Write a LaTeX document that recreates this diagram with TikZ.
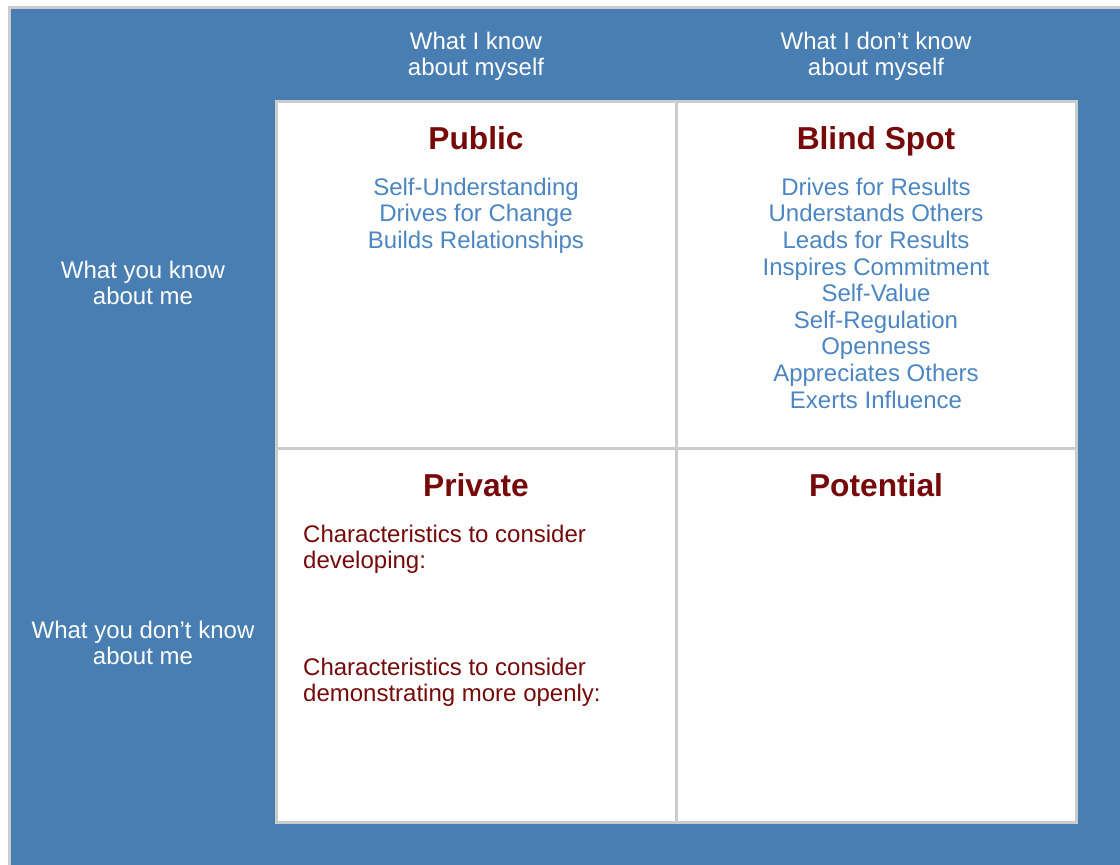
\documentclass[tikz,border=0pt]{standalone}
\usepackage{fontspec}
\setmainfont{Liberation Sans}
\definecolor{bgblue}{RGB}{72,126,178}
\definecolor{gridgray}{RGB}{204,204,204}
\definecolor{itemblue}{RGB}{76,134,194}
\definecolor{maroon}{RGB}{118,10,10}
\newcommand{\bodyfont}{\fontsize{24}{26.6}\selectfont}
\tikzset{
  cell/.style={draw=gridgray, line width=3pt, fill=white, inner sep=0pt},
  hdr/.style={text=white, font=\bodyfont, align=center, anchor=north, inner sep=0pt},
  ttl/.style={text=maroon, font=\fontsize{31.7}{36}\selectfont\bfseries, anchor=base, inner sep=0pt},
  items/.style={text=itemblue, font=\bodyfont, align=center, anchor=north, inner sep=0pt},
  note/.style={text=maroon, font=\bodyfont, align=left, anchor=north west, inner sep=0pt},
}
\begin{document}
\begin{tikzpicture}[x=1pt,y=-1pt]
\useasboundingbox (0,0) rectangle (1120,865);
\fill[white] (0,0) rectangle (1120,865);
\fill[gridgray] (8,6) rectangle (1120,865);
\fill[bgblue] (11,9) rectangle (1120,865);
% cells
\node[cell, minimum width=400pt, minimum height=347pt] (pub) at (476,274.5) {};
\node[cell, minimum width=400pt, minimum height=347pt] (blind) at (876,274.5) {};
\node[cell, minimum width=400pt, minimum height=374pt] (priv) at (476,635) {};
\node[cell, minimum width=400pt, minimum height=374pt] (pot) at (876,635) {};
% headers
\node[hdr] (h1) at (476,41-10.6) {\strut What I know\\about myself};
\node[hdr] (h2) at (876,41-10.6) {\strut What I don’t know\\about myself};
\node[hdr] (h3) at (143,270-10.6) {\strut What you know\\about me};
\node[hdr] (h4) at (143,630-10.6) {\strut What you don’t know\\about me};
% titles
\node[ttl] (t1) at (476,149) {Public};
\node[ttl] (t2) at (876,149) {Blind Spot};
\node[ttl] (t3) at (476,496) {Private};
\node[ttl] (t4) at (876,496) {Potential};
% lists
\node[items] (l1) at (476,187-10.6) {\strut Self-Understanding\\Drives for Change\\Builds Relationships};
\node[items] (l2) at (876,187-10.6) {\strut Drives for Results\\Understands Others\\Leads for Results\\Inspires Commitment\\Self-Value\\Self-Regulation\\Openness\\Appreciates Others\\Exerts Influence};
\node[note] (n1) at (303,534-10.6) {\strut Characteristics to consider\\developing:};
\node[note] (n2) at (303,667-10.6) {\strut Characteristics to consider\\demonstrating more openly:};
\end{tikzpicture}
\end{document}
